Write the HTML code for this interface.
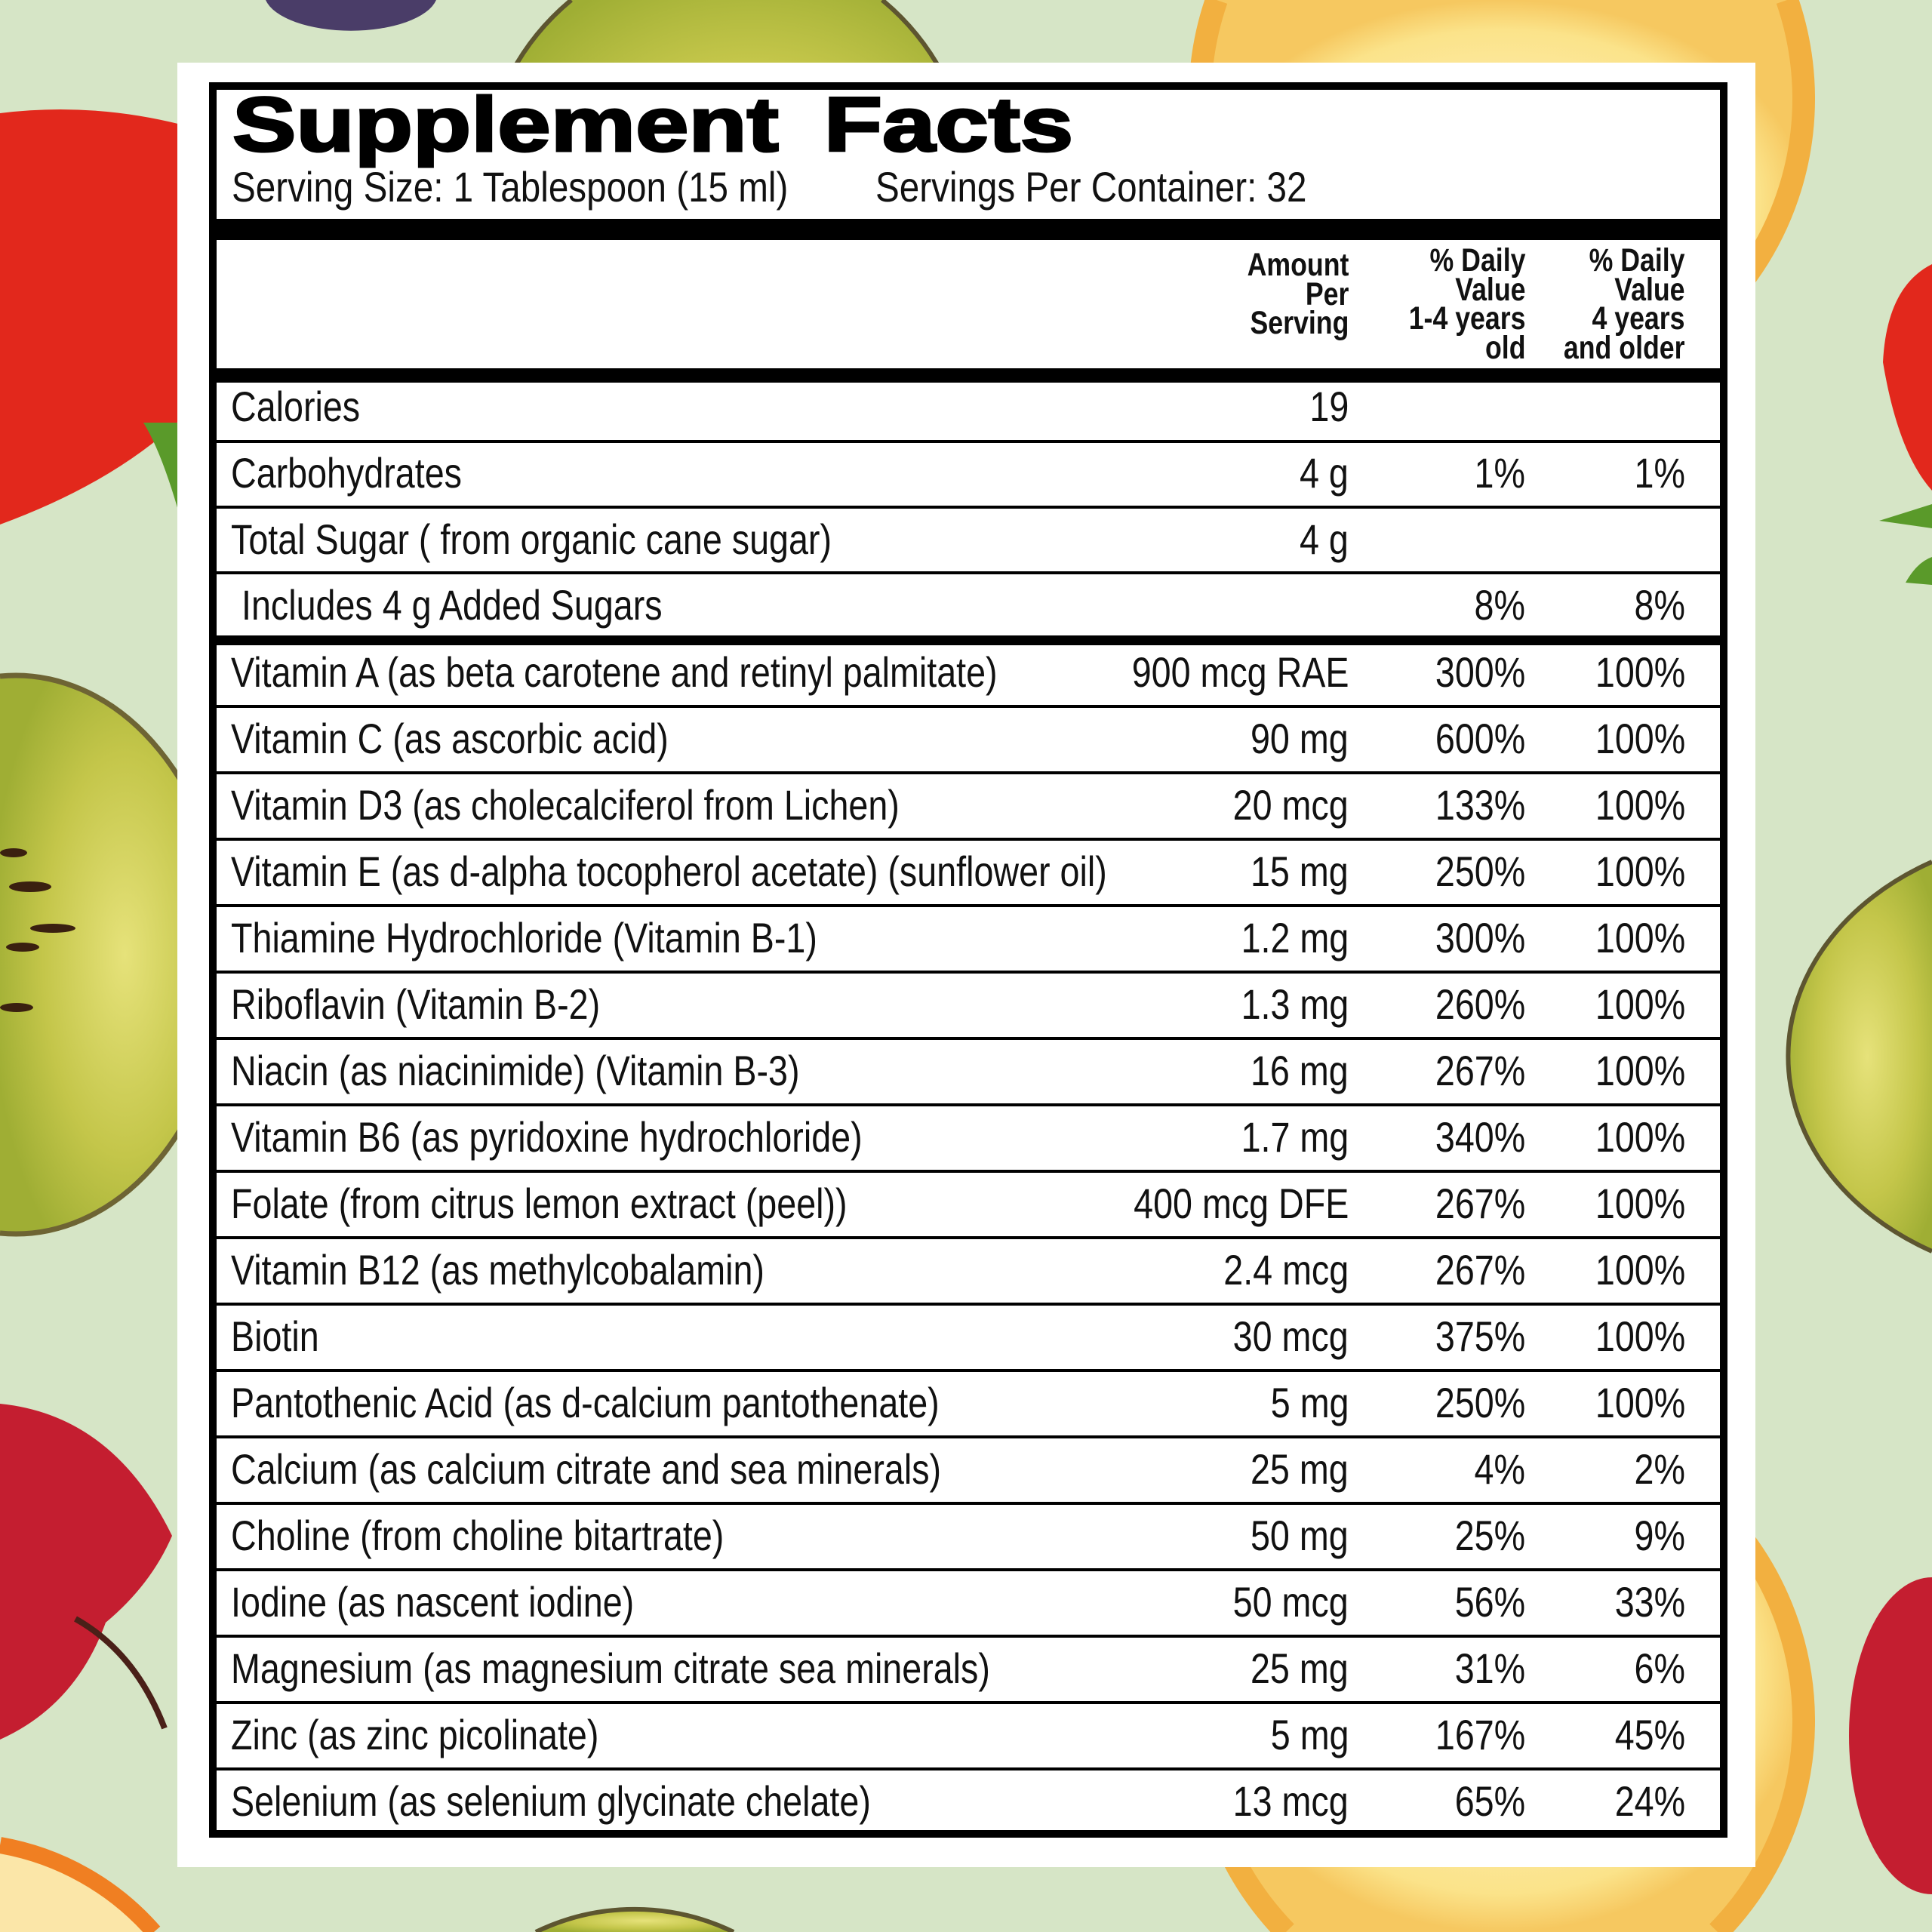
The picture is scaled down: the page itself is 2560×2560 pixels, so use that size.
<!DOCTYPE html>
<html>
<head>
<meta charset="utf-8">
<style>
html{margin:0;padding:0;width:2560px;height:2560px;overflow:hidden;}
body{margin:0;padding:0;width:2560px;height:2560px;position:relative;overflow:hidden;background:#d6e5c6;font-family:"Liberation Sans",Arial,sans-serif;}
svg.bg{position:absolute;left:0;top:0;display:block;overflow:hidden;}
.panel{position:absolute;left:235px;top:83px;width:2091px;height:2391px;background:#fff;}
.box{position:absolute;left:277px;top:109px;width:2012px;height:2326px;border:10px solid #000;box-sizing:border-box;}
.ln{position:absolute;left:280px;width:2005px;background:#000;}
.t{position:absolute;white-space:nowrap;font-size:56px;line-height:56px;color:#111;}
.l{left:306px;transform:scaleX(.833);transform-origin:0 0;}
.a{right:773px;transform:scaleX(.833);transform-origin:100% 0;text-align:right;}
.d1{right:539px;transform:scaleX(.833);transform-origin:100% 0;text-align:right;}
.d2{right:327px;transform:scaleX(.833);transform-origin:100% 0;text-align:right;}
.title{position:absolute;left:308px;top:114px;font-size:102px;line-height:102px;font-weight:bold;white-space:nowrap;transform:scaleX(1.24);transform-origin:0 0;word-spacing:20px;-webkit-text-stroke:3px #000;color:#000;}
.sv{position:absolute;top:220px;font-size:56px;line-height:56px;white-space:nowrap;transform:scaleX(.85);transform-origin:0 0;color:#111;}
.hd{position:absolute;font-size:43px;line-height:38.5px;font-weight:bold;text-align:right;white-space:nowrap;transform:scaleX(.83);transform-origin:100% 0;color:#111;}
</style>
</head>
<body>
<svg class="bg" width="2560" height="2560" viewBox="0 0 2560 2560" xmlns="http://www.w3.org/2000/svg">
  <defs>
    <radialGradient id="kiwi" cx="0.55" cy="0.5" r="0.6">
      <stop offset="0" stop-color="#e6e27a"/>
      <stop offset="0.6" stop-color="#c4c64a"/>
      <stop offset="1" stop-color="#9fae34"/>
    </radialGradient>
    <radialGradient id="lemon" cx="0.5" cy="0.5" r="0.5">
      <stop offset="0" stop-color="#fff6d0"/>
      <stop offset="0.85" stop-color="#fbe38a"/>
      <stop offset="1" stop-color="#f6c860"/>
    </radialGradient>
  </defs>
  <rect x="0" y="0" width="2560" height="2560" fill="#d6e5c6"/>
  <!-- top blackberry -->
  <path d="M352,0 A115,50 0 0,0 578,0 Z" fill="#4a3d68"/>
  <!-- top kiwi -->
  <path d="M757,0 A324,324 0 1,0 1169,0 Z" fill="url(#kiwi)"/>
  <path d="M757,0 A324,324 0 1,0 1169,0" fill="none" stroke="#5d5530" stroke-width="6"/>
  <!-- top lemon -->
  <path d="M1612,0 A400,400 0 1,0 2368,0 Z" fill="url(#lemon)"/>
  <path d="M1612,0 A400,400 0 1,0 2368,0" fill="none" stroke="#f2b040" stroke-width="30"/>
  <!-- left strawberry -->
  <path d="M0,150 Q120,135 240,165 L240,555 Q150,640 0,695 Z" fill="#e2281c"/>
  <path d="M190,560 Q215,600 240,690 L240,560 Z" fill="#5a9a2a"/>
  <!-- left kiwi -->
  <path d="M0,896 A280,370 0 1,1 0,1634 Z" fill="url(#kiwi)"/>
  <path d="M0,896 A280,370 0 1,1 0,1634" fill="none" stroke="#6e6434" stroke-width="7"/>
  <ellipse cx="40" cy="1175" rx="28" ry="7" fill="#3a2010"/>
  <ellipse cx="70" cy="1230" rx="30" ry="6" fill="#3a2010"/>
  <ellipse cx="30" cy="1255" rx="22" ry="6" fill="#3a2010"/>
  <ellipse cx="22" cy="1335" rx="22" ry="6" fill="#3a2010"/>
  <ellipse cx="18" cy="1130" rx="18" ry="6" fill="#3a2010"/>
  <!-- left raspberry -->
  <path d="M0,1860 Q150,1875 228,2035 Q200,2100 140,2150 Q100,2260 0,2305 Z" fill="#c41e30"/>
  <path d="M100,2145 Q180,2190 218,2290" fill="none" stroke="#4a2018" stroke-width="8"/>
  <!-- bottom-left orange -->
  <path d="M0,2445 A350,350 0 0,1 204,2560 L0,2560 Z" fill="#fbe6a8"/>
  <path d="M0,2445 A350,350 0 0,1 204,2560" fill="none" stroke="#f07f22" stroke-width="22"/>
  <!-- bottom kiwi -->
  <path d="M710,2560 A300,300 0 0,1 972,2560 Z" fill="url(#kiwi)"/>
  <path d="M710,2560 A300,300 0 0,1 972,2560" fill="none" stroke="#5d5530" stroke-width="6"/>
  <!-- bottom lemon -->
  <path d="M1704,2560 A400,400 0 1,1 2276,2560 Z" fill="url(#lemon)"/>
  <path d="M1704,2560 A400,400 0 1,1 2276,2560" fill="none" stroke="#f2b040" stroke-width="30"/>
  <!-- right strawberry -->
  <path d="M2560,350 Q2500,380 2495,480 Q2515,600 2560,650 Z" fill="#e2281c"/>
  <path d="M2490,690 L2560,668 L2560,700 Z" fill="#5a9a2a"/>
  <path d="M2525,772 Q2540,745 2560,738 L2560,775 Z" fill="#5a9a2a"/>
  <!-- right kiwi -->
  <path d="M2560,1142 A370,295 0 0,0 2560,1658 Z" fill="url(#kiwi)"/>
  <path d="M2560,1142 A370,295 0 0,0 2560,1658" fill="none" stroke="#5d5530" stroke-width="6"/>
  <!-- right raspberry -->
  <path d="M2560,2090 A110,210 0 0,0 2560,2510 Z" fill="#c41e30"/>
</svg>

<div class="panel"></div>
<div class="box"></div>

<div class="ln" style="top:290px;height:28px;"></div>
<div class="ln" style="top:488px;height:19px;"></div>
<div class="ln" style="top:583px;height:4px;"></div>
<div class="ln" style="top:670px;height:4px;"></div>
<div class="ln" style="top:757px;height:4px;"></div>
<div class="ln" style="top:842px;height:13px;"></div>
<div class="ln" style="top:934px;height:4px;"></div>
<div class="ln" style="top:1022px;height:4px;"></div>
<div class="ln" style="top:1110px;height:4px;"></div>
<div class="ln" style="top:1198px;height:4px;"></div>
<div class="ln" style="top:1286px;height:4px;"></div>
<div class="ln" style="top:1374px;height:4px;"></div>
<div class="ln" style="top:1462px;height:4px;"></div>
<div class="ln" style="top:1550px;height:4px;"></div>
<div class="ln" style="top:1638px;height:4px;"></div>
<div class="ln" style="top:1726px;height:4px;"></div>
<div class="ln" style="top:1814px;height:4px;"></div>
<div class="ln" style="top:1902px;height:4px;"></div>
<div class="ln" style="top:1990px;height:4px;"></div>
<div class="ln" style="top:2078px;height:4px;"></div>
<div class="ln" style="top:2166px;height:4px;"></div>
<div class="ln" style="top:2254px;height:4px;"></div>
<div class="ln" style="top:2342px;height:4px;"></div>

<div class="title">Supplement Facts</div>
<div class="sv" style="left:307px;">Serving Size: 1 Tablespoon (15 ml)</div>
<div class="sv" style="left:1160px;">Servings Per Container: 32</div>

<div class="hd" style="right:773px;top:332px;">Amount<br>Per<br>Serving</div>
<div class="hd" style="right:539px;top:326px;">% Daily<br>Value<br>1-4 years<br>old</div>
<div class="hd" style="right:327px;top:326px;">% Daily<br>Value<br>4 years<br>and older</div>

<div class="t l" style="top:511px;">Calories</div>
<div class="t a" style="top:511px;">19</div>

<div class="t l" style="top:599px;">Carbohydrates</div>
<div class="t a" style="top:599px;">4 g</div>
<div class="t d1" style="top:599px;">1%</div>
<div class="t d2" style="top:599px;">1%</div>

<div class="t l" style="top:687px;">Total Sugar ( from organic cane sugar)</div>
<div class="t a" style="top:687px;">4 g</div>

<div class="t l" style="top:774px;left:320px;">Includes 4 g Added Sugars</div>
<div class="t d1" style="top:774px;">8%</div>
<div class="t d2" style="top:774px;">8%</div>

<div class="t l" style="top:863px;">Vitamin A (as beta carotene and retinyl palmitate)</div>
<div class="t a" style="top:863px;">900 mcg RAE</div>
<div class="t d1" style="top:863px;">300%</div>
<div class="t d2" style="top:863px;">100%</div>

<div class="t l" style="top:951px;">Vitamin C (as ascorbic acid)</div>
<div class="t a" style="top:951px;">90 mg</div>
<div class="t d1" style="top:951px;">600%</div>
<div class="t d2" style="top:951px;">100%</div>

<div class="t l" style="top:1039px;">Vitamin D3 (as cholecalciferol from Lichen)</div>
<div class="t a" style="top:1039px;">20 mcg</div>
<div class="t d1" style="top:1039px;">133%</div>
<div class="t d2" style="top:1039px;">100%</div>

<div class="t l" style="top:1127px;">Vitamin E (as d-alpha tocopherol acetate) (sunflower oil)</div>
<div class="t a" style="top:1127px;">15 mg</div>
<div class="t d1" style="top:1127px;">250%</div>
<div class="t d2" style="top:1127px;">100%</div>

<div class="t l" style="top:1215px;">Thiamine Hydrochloride (Vitamin B-1)</div>
<div class="t a" style="top:1215px;">1.2 mg</div>
<div class="t d1" style="top:1215px;">300%</div>
<div class="t d2" style="top:1215px;">100%</div>

<div class="t l" style="top:1303px;">Riboflavin (Vitamin B-2)</div>
<div class="t a" style="top:1303px;">1.3 mg</div>
<div class="t d1" style="top:1303px;">260%</div>
<div class="t d2" style="top:1303px;">100%</div>

<div class="t l" style="top:1391px;">Niacin (as niacinimide) (Vitamin B-3)</div>
<div class="t a" style="top:1391px;">16 mg</div>
<div class="t d1" style="top:1391px;">267%</div>
<div class="t d2" style="top:1391px;">100%</div>

<div class="t l" style="top:1479px;">Vitamin B6 (as pyridoxine hydrochloride)</div>
<div class="t a" style="top:1479px;">1.7 mg</div>
<div class="t d1" style="top:1479px;">340%</div>
<div class="t d2" style="top:1479px;">100%</div>

<div class="t l" style="top:1567px;">Folate (from citrus lemon extract (peel))</div>
<div class="t a" style="top:1567px;">400 mcg DFE</div>
<div class="t d1" style="top:1567px;">267%</div>
<div class="t d2" style="top:1567px;">100%</div>

<div class="t l" style="top:1655px;">Vitamin B12 (as methylcobalamin)</div>
<div class="t a" style="top:1655px;">2.4 mcg</div>
<div class="t d1" style="top:1655px;">267%</div>
<div class="t d2" style="top:1655px;">100%</div>

<div class="t l" style="top:1743px;">Biotin</div>
<div class="t a" style="top:1743px;">30 mcg</div>
<div class="t d1" style="top:1743px;">375%</div>
<div class="t d2" style="top:1743px;">100%</div>

<div class="t l" style="top:1831px;">Pantothenic Acid (as d-calcium pantothenate)</div>
<div class="t a" style="top:1831px;">5 mg</div>
<div class="t d1" style="top:1831px;">250%</div>
<div class="t d2" style="top:1831px;">100%</div>

<div class="t l" style="top:1919px;">Calcium (as calcium citrate and sea minerals)</div>
<div class="t a" style="top:1919px;">25 mg</div>
<div class="t d1" style="top:1919px;">4%</div>
<div class="t d2" style="top:1919px;">2%</div>

<div class="t l" style="top:2007px;">Choline (from choline bitartrate)</div>
<div class="t a" style="top:2007px;">50 mg</div>
<div class="t d1" style="top:2007px;">25%</div>
<div class="t d2" style="top:2007px;">9%</div>

<div class="t l" style="top:2095px;">Iodine (as nascent iodine)</div>
<div class="t a" style="top:2095px;">50 mcg</div>
<div class="t d1" style="top:2095px;">56%</div>
<div class="t d2" style="top:2095px;">33%</div>

<div class="t l" style="top:2183px;">Magnesium (as magnesium citrate sea minerals)</div>
<div class="t a" style="top:2183px;">25 mg</div>
<div class="t d1" style="top:2183px;">31%</div>
<div class="t d2" style="top:2183px;">6%</div>

<div class="t l" style="top:2271px;">Zinc (as zinc picolinate)</div>
<div class="t a" style="top:2271px;">5 mg</div>
<div class="t d1" style="top:2271px;">167%</div>
<div class="t d2" style="top:2271px;">45%</div>

<div class="t l" style="top:2359px;">Selenium (as selenium glycinate chelate)</div>
<div class="t a" style="top:2359px;">13 mcg</div>
<div class="t d1" style="top:2359px;">65%</div>
<div class="t d2" style="top:2359px;">24%</div>

</body>
</html>
